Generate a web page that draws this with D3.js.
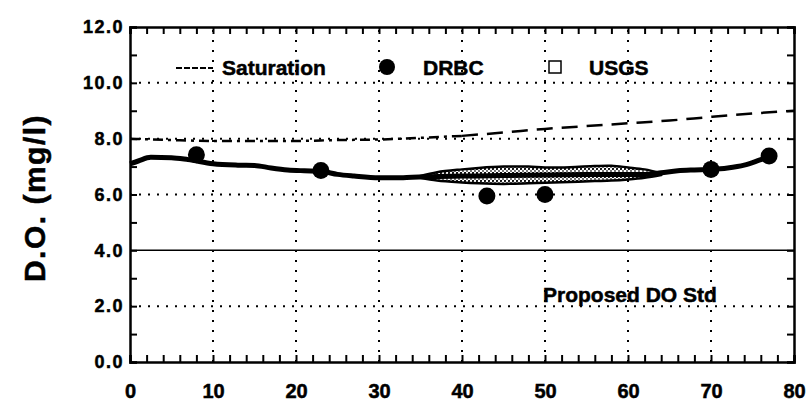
<!DOCTYPE html>
<html><head><meta charset="utf-8">
<script src="https://cdn.jsdelivr.net/npm/d3@7"></script>
<style>
html,body{margin:0;padding:0;background:#fff;}
text{font-family:"Liberation Sans",Arial,sans-serif;font-weight:bold;fill:#000;stroke:#000;stroke-width:0.5px;}
</style></head>
<body><svg id="chart" width="810" height="409"></svg>
<script>
// ---- data ----
const xTickValues = [0,10,20,30,40,50,60,70,80];
const yTickValues = [0,2,4,6,8,10,12];
const yTickLabels = ["0.0","2.0","4.0","6.0","8.0","10.0","12.0"];
const stdValue = 4.0;
const stdLabel = "Proposed DO Std";
const yTitle = "D.O. (mg/l)";

// Saturation (dash line)
const satX = [0,5,10,15,20,25,30,35,40,45,50,55,60,65,70,75,80];
const satY = [8.0,7.95,7.92,7.92,7.92,7.95,7.97,8.03,8.1,8.22,8.35,8.45,8.55,8.65,8.78,8.9,9.0];

// Model DO (solid thick line)
const modelX = [0,1,2.5,5,7,10,13,15,17,19,21,23,25,27,30,32,34,36,40,45,50,55,60,62,64,66,68,70,72,74,76,77.5];
const modelY = [7.1,7.2,7.33,7.32,7.25,7.1,7.05,7.04,6.95,6.88,6.85,6.83,6.72,6.66,6.6,6.6,6.62,6.64,6.66,6.68,6.7,6.72,6.72,6.72,6.78,6.85,6.88,6.9,6.95,7.05,7.25,7.4];

// DRBC observations
const drbcX = [8,23,43,50,70,77];
const drbcY = [7.42,6.86,5.95,6.0,6.9,7.38];

// USGS range band
const usgsX    = [35,37,40,42,45,48,50,53,56,58,60,62,64];
const usgsHigh = [6.66,6.8,6.9,6.95,7.0,7.0,6.97,6.98,7.02,7.03,6.97,6.9,6.76];
const usgsLow  = [6.6,6.5,6.43,6.4,6.38,6.4,6.42,6.45,6.48,6.5,6.54,6.6,6.7];

const legendLabels = ["Saturation","DRBC","USGS"];

// ---- drawing ----
const svg = d3.select("#chart");
const x = d3.scaleLinear().domain([0,80]).range([130,794]);
const y = d3.scaleLinear().domain([0,12]).range([362,27]);

// pattern for band
const defs = svg.append("defs");
const pat = defs.append("pattern").attr("id","stip").attr("patternUnits","userSpaceOnUse")
  .attr("width",4).attr("height",4);
pat.append("rect").attr("width",4).attr("height",4).attr("fill","#fff");
pat.append("circle").attr("cx",1).attr("cy",1).attr("r",1.1).attr("fill","#000");
pat.append("circle").attr("cx",3).attr("cy",3).attr("r",0.9).attr("fill","#333");

// grid
const g = svg.append("g");
g.selectAll(".vg").data(xTickValues.filter(d=>d>0&&d<80)).join("line")
  .attr("x1",d=>x(d)).attr("x2",d=>x(d)).attr("y1",y(0)).attr("y2",y(12))
  .attr("stroke","#000").attr("stroke-width",2).attr("stroke-dasharray","2,8");
g.selectAll(".hg").data(yTickValues.filter(d=>d>0&&d<12&&d!==stdValue)).join("line")
  .attr("x1",x(0)).attr("x2",x(80)).attr("y1",d=>y(d)).attr("y2",d=>y(d))
  .attr("stroke","#000").attr("stroke-width",2).attr("stroke-dasharray","2,7");
// std line
g.append("line").attr("x1",x(0)).attr("x2",x(80)).attr("y1",y(stdValue)).attr("y2",y(stdValue))
  .attr("stroke","#000").attr("stroke-width",1.5);

// axes: minor ticks
const minorX = d3.range(0,81,2);
const minorY = d3.range(0,13,1);
function styleAxis(a){a.select(".domain").attr("stroke-width",2.5);a.selectAll(".tick line").attr("stroke-width",2);}
svg.append("g").attr("transform",`translate(0,${y(0)})`)
  .call(d3.axisBottom(x).tickValues(minorX).tickSize(-7).tickFormat("")).call(styleAxis);
svg.append("g").attr("transform",`translate(0,${y(12)})`)
  .call(d3.axisTop(x).tickValues(minorX).tickSize(-7).tickFormat("")).call(styleAxis);
svg.append("g").attr("transform",`translate(${x(0)},0)`)
  .call(d3.axisLeft(y).tickValues(minorY).tickSize(-7).tickFormat("")).call(styleAxis);
svg.append("g").attr("transform",`translate(${x(80)},0)`)
  .call(d3.axisRight(y).tickValues(minorY).tickSize(-7).tickFormat("")).call(styleAxis);

// tick labels
const xl = svg.append("g").attr("transform",`translate(0,${y(0)})`)
  .call(d3.axisBottom(x).tickValues(xTickValues).tickSize(0).tickPadding(22).tickFormat(d3.format("d")));
xl.select(".domain").remove();
xl.selectAll("text").attr("font-size",20).attr("font-family","Liberation Sans, Arial, sans-serif").attr("font-weight","bold");

const yl = svg.append("g").attr("transform",`translate(${x(0)},0)`)
  .call(d3.axisLeft(y).tickValues(yTickValues).tickSize(0).tickPadding(6).tickFormat((d,i)=>yTickLabels[i]));
yl.select(".domain").remove();
yl.selectAll("text").attr("font-size",18).attr("letter-spacing","1.5px").attr("font-family","Liberation Sans, Arial, sans-serif").attr("font-weight","bold");

// y title
svg.append("text").attr("transform",`translate(45,198) rotate(-90)`).attr("text-anchor","middle")
  .attr("font-size",30).attr("letter-spacing","1.5px").text(yTitle);

// USGS band
const band = usgsX.map((d,i)=>({x:d,h:usgsHigh[i],l:usgsLow[i]}));
svg.append("path").datum(band)
  .attr("d",d3.area().x(d=>x(d.x)).y0(d=>y(d.l)).y1(d=>y(d.h)).curve(d3.curveCatmullRom))
  .attr("fill","url(#stip)").attr("stroke","#000").attr("stroke-width",2.5);

// saturation
const sat = satX.map((d,i)=>({x:d,y:satY[i]}));
const satLine = d3.line().x(d=>x(d.x)).y(d=>y(d.y)).curve(d3.curveMonotoneX);
svg.append("path").datum(sat.filter(d=>d.x<=40)).attr("d",satLine)
  .attr("fill","none").attr("stroke","#000").attr("stroke-width",2.5).attr("stroke-dasharray","10,5,3,5");
svg.append("path").datum(sat.filter(d=>d.x>=40)).attr("d",satLine)
  .attr("fill","none").attr("stroke","#000").attr("stroke-width",2.5).attr("stroke-dasharray","16,9");

// model line
const model = modelX.map((d,i)=>({x:d,y:modelY[i]}));
svg.append("path").datum(model)
  .attr("d",d3.line().x(d=>x(d.x)).y(d=>y(d.y)).curve(d3.curveMonotoneX))
  .attr("fill","none").attr("stroke","#000").attr("stroke-width",5).attr("stroke-linejoin","round");

// DRBC points
svg.selectAll(".drbc").data(drbcX.map((d,i)=>({x:d,y:drbcY[i]}))).join("circle")
  .attr("cx",d=>x(d.x)).attr("cy",d=>y(d.y)).attr("r",8.5).attr("fill","#000");

// std label
svg.append("text").attr("x",543).attr("y",302).attr("font-size",21).text(stdLabel);

// legend
const lg = svg.append("g");
lg.append("line").attr("x1",176).attr("x2",213).attr("y1",68).attr("y2",68)
  .attr("stroke","#000").attr("stroke-width",2).attr("stroke-dasharray","6,2");
lg.append("text").attr("x",222).attr("y",75).attr("font-size",21).text(legendLabels[0]);
lg.append("circle").attr("cx",387).attr("cy",67).attr("r",8).attr("fill","#000");
lg.append("text").attr("x",423).attr("y",75).attr("font-size",21).text(legendLabels[1]);
lg.append("rect").attr("x",549).attr("y",61).attr("width",12).attr("height",12)
  .attr("fill","#fff").attr("stroke","#000").attr("stroke-width",1.5);
lg.append("text").attr("x",589).attr("y",75).attr("font-size",21).text(legendLabels[2]);
</script></body></html>
